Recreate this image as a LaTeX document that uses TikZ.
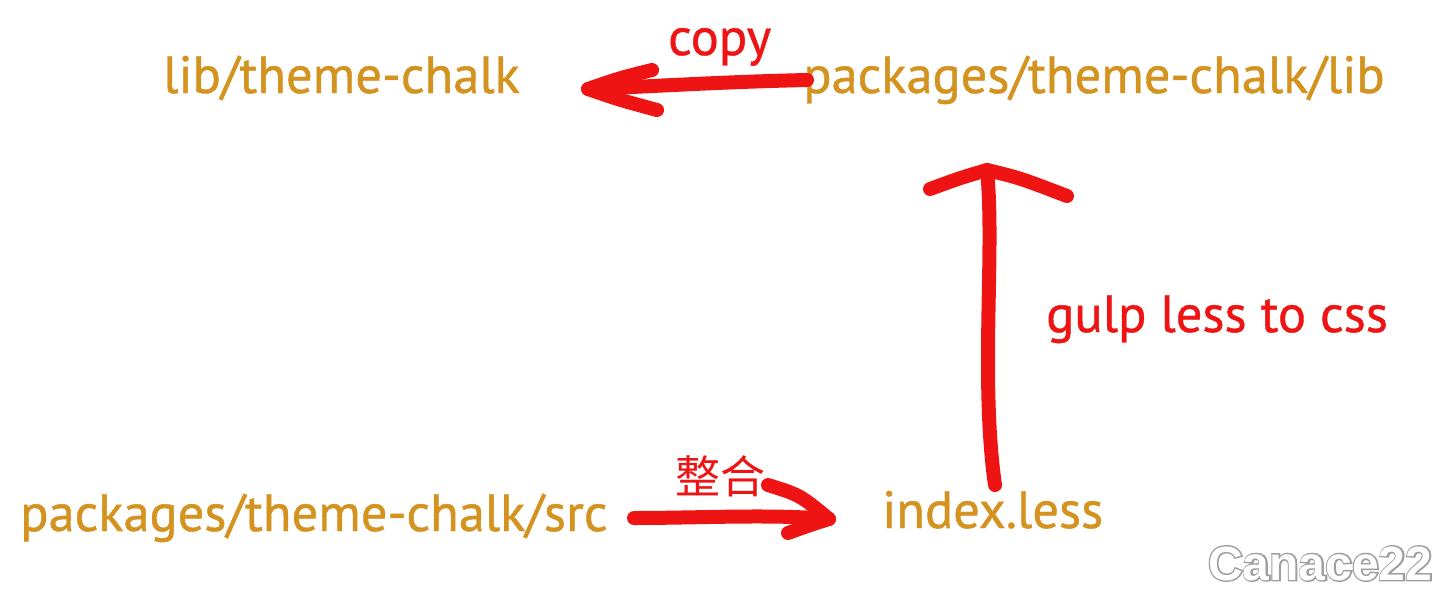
\documentclass[tikz,border=0pt]{standalone}
\usepackage{fontspec}
\setmainfont{PT Sans}[FakeBold=0.8]
\newfontfamily\cjk{Noto Sans CJK SC}
\newfontfamily\wmfont{Liberation Sans Bold}
\newfontfamily\wmfontbold{Liberation Sans Bold}[FakeBold=6]
\definecolor{pathorange}{HTML}{D4921E}
\definecolor{markred}{HTML}{EE1414}
\begin{document}
\begin{tikzpicture}[x=1pt,y=-1pt,
  path/.style={text=pathorange,font=\fontsize{52.5}{60}\selectfont,inner sep=0pt,anchor=base west},
  lbl/.style={text=markred,font=\fontsize{52.5}{60}\selectfont,inner sep=0pt,anchor=base west},
  stroke/.style={draw=markred,line width=14pt,line cap=round,line join=round}]
\useasboundingbox (0,0) rectangle (1450,594);
\fill[white] (0,0) rectangle (1450,594);
% texts
\node[path] (lib) at (163,93) {lib/theme-chalk};
\node[path] (pkglib) at (803,93) {packages/theme-chalk/lib};
\node[path] (pkgsrc) at (20,531) {packages/theme-chalk/src};
\node[path] (index) at (882,528) {index.less};
\node[lbl] (copy) at (668,55) {copy};
\node[lbl] (gulp) at (1046,332) {gulp less to css};
\node[text=markred,font=\cjk\fontsize{45}{48}\selectfont,inner sep=0pt,anchor=base west] (zhenghe) at (675,493) {整合};
% watermark
\node[text=gray!75,font=\wmfontbold\fontsize{48}{50}\selectfont,inner sep=0pt,anchor=base west] (wm) at (1208,580) {Canace22};
\node[text=white,font=\wmfont\fontsize{48}{50}\selectfont,inner sep=0pt,anchor=base west] (wm2) at (1208,580) {Canace22};
% copy arrow
\coordinate (c1) at (807,80);
\coordinate (c2) at (588,89);
\coordinate (cu) at (652,70);
\coordinate (cd) at (657,110);
\draw[stroke] (c1) .. controls (720,82) and (660,86) .. (c2);
\draw[stroke] (cu) .. controls (620,78) .. (c2) .. controls (620,100) .. (cd);
% gulp arrow
\coordinate (g1) at (995,485);
\coordinate (g2) at (987,170);
\coordinate (gl) at (930,189);
\coordinate (gr) at (1067,196);
\draw[stroke] (g1) .. controls (980,380) and (995,250) .. (g2);
\draw[stroke] (gl) .. controls (960,178) .. (g2) .. controls (1020,178) .. (gr);
% merge arrow
\coordinate (m1) at (634,518);
\coordinate (m2) at (829,519);
\coordinate (mu) at (768,485);
\coordinate (md) at (788,533);
\draw[stroke] (m1) .. controls (700,518) and (770,514) .. (m2);
\draw[stroke] (mu) .. controls (800,495) .. (m2) .. controls (810,525) .. (md);
\end{tikzpicture}
\end{document}
